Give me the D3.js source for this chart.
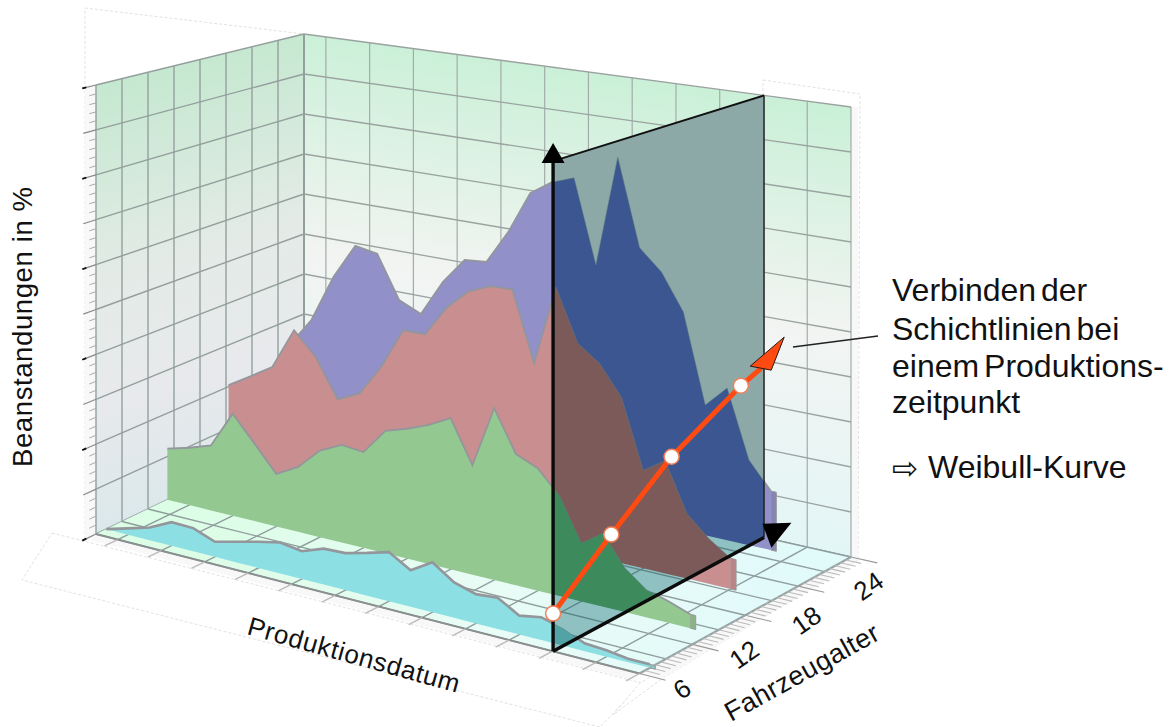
<!DOCTYPE html>
<html>
<head>
<meta charset="utf-8">
<script src="https://d3js.org/d3.v7.min.js"></script>
<style>
body { margin: 0; background: #fff; }
svg { display: block; }
text { font-family: "Liberation Sans", Arial, sans-serif; fill: #111; }
</style>
</head>
<body>
<svg id="chart" width="1176" height="727"></svg>
<script>
// values per half year of production (% scale has no labels, 0..10)
var age_24_values = [2.38,3.11,4.27,5.13,5.03,4.01,3.77,4.64,5.26,5.31,6.11,7.11,7.45,7.63,5.69,8.27,6.26,5.79,4.97,2.95,3.43,1.91,1.32]
var age_18_values = [2.04,2.36,2.69,3.67,3.14,2.26,2.51,3.24,4.18,4.19,4.90,5.36,5.57,5.59,4.02,5.82,4.66,4.31,3.66,2.15,2.47,1.42,0.98,0.66]
var age_12_values = [1.18,1.32,1.49,2.33,1.76,1.19,1.46,1.94,2.18,2.13,2.71,2.86,3.05,3.30,2.38,3.72,2.83,2.63,2.14,1.24,1.56,0.93,0.58,0.45,0.29]
var age_6_values = [0,0.14,0.28,0.52,0.51,0.33,0.45,0.57,0.67,0.60,0.77,0.79,0.91,1.04,0.77,1.05,0.74,0.61,0.65,0.39,0.47,0.35,0.16,0.13,0.07,0.07]

var age_labels = [6, 12, 18, 24]
var date_ticks = d3.range(1, 26, 2)
var value_ticks = d3.range(0, 11)
var age_grid = d3.range(0, 9).map(function (i) { return 5 + i * 2.55 })

// the cut through one production date, and the points it picks up
var slice_date = 21.025
var slice_ages = [5, 10.63, 16.46, 23.16]
var slice_values = [0.77, 1.79, 2.82, 3.67]

var note_lines = ["Verbinden der", "Schichtlinien bei", "einem Produktions-", "zeitpunkt"]

var date_scale = d3.scaleLinear().domain([0, 25]).range([0, 1])
var age_scale = d3.scaleLinear().domain([5, 25.4]).range([0, 1])
var value_scale = d3.scaleLinear().domain([0, 10]).range([0, 1])

// floor corners and box heights of the perspective box, u along date, v along age
var p00 = [96, 534], p10 = [639.5, 673.5], p01 = [304, 434], p11 = [851, 557]
var h00 = 449, h10 = 498, h01 = 400, h11 = 450

function bilinear(a, b, c, d, u, v) {
    return (1 - u) * (1 - v) * a + u * (1 - v) * b + (1 - u) * v * c + u * v * d
}

function project(date, age, value) {
    var u = date_scale(date), v = age_scale(age)
    var x = bilinear(p00[0], p10[0], p01[0], p11[0], u, v)
    var y = bilinear(p00[1], p10[1], p01[1], p11[1], u, v)
    var h = bilinear(h00, h10, h01, h11, u, v)
    return [x, y - value_scale(value) * h]
}

var date_min = 0, date_max = 25, age_min = 5, age_max = 25.4, value_max = 10

var svg = d3.select("#chart")
var defs = svg.append("defs")

function add_gradient(id, x1, y1, x2, y2, stops) {
    var g = defs.append("linearGradient").attr("id", id).attr("gradientUnits", "userSpaceOnUse")
        .attr("x1", x1).attr("y1", y1).attr("x2", x2).attr("y2", y2)
    stops.forEach(function (s) { g.append("stop").attr("offset", s[0]).attr("stop-color", s[1]) })
}
add_gradient("left_wall", 170, 60, 300, 500, [[0, "#c4e8cf"], [0.42, "#e4ebe7"], [0.68, "#e8e9ec"], [1, "#d8e8ea"]])
add_gradient("back_wall", 600, 60, 530, 520, [[0, "#c8f0d6"], [0.5, "#f2f4f2"], [1, "#e2f6f6"]])
add_gradient("floor_fill", 200, 500, 800, 560, [[0, "#dcfde6"], [0.5, "#e9fcf6"], [1, "#e1fafa"]])

function poly(sel, pts) {
    return sel.append("path").attr("d", d3.line()(pts) + "Z")
}
function seg(sel, a, b, color, width) {
    return sel.append("line").attr("x1", a[0]).attr("y1", a[1]).attr("x2", b[0]).attr("y2", b[1])
        .attr("stroke", color).attr("stroke-width", width)
}

// the faint label plates around the box
var plates = svg.append("g").attr("fill", "#fff").attr("stroke", "#e2e2e2").attr("stroke-width", 1).attr("stroke-dasharray", "3,2")
poly(plates, [[85, 8], [304, 34], [304, 434], [85, 540]])
poly(plates, [[763, 80], [860, 94], [858, 560], [763, 540]])
poly(plates, [[52, 533], [642, 683], [600, 727], [22, 580]])
poly(plates, [[858, 560], [660, 680], [613, 715], [640, 683]])
var bands = svg.append("g").attr("fill", "#f8f8f8")
poly(bands, [[85, 88], [96, 85], [96, 534], [85, 539]])
poly(bands, [[851, 107], [858, 107], [858, 560], [851, 557]])
poly(bands, [[96, 534], [639.5, 673.5], [633, 680], [90, 540]])
poly(bands, [[851, 557], [858, 560], [660, 680], [639.5, 673.5]])

// left and back wall
poly(svg, [project(date_min, age_min, value_max), project(date_min, age_max, value_max), project(date_min, age_max, 0), project(date_min, age_min, 0)]).attr("fill", "url(#left_wall)")
poly(svg, [project(date_min, age_max, value_max), project(date_max, age_max, value_max), project(date_max, age_max, 0), project(date_min, age_max, 0)]).attr("fill", "url(#back_wall)")

var wall_grid = svg.append("g")
age_grid.forEach(function (a) {
    seg(wall_grid, project(date_min, a, 0), project(date_min, a, value_max), "#99a5a2", 1.5)
})
date_ticks.forEach(function (d) {
    seg(wall_grid, project(d, age_max, 0), project(d, age_max, value_max), "#a3aca9", 1.2)
})
seg(wall_grid, project(date_min, age_max, 0), project(date_min, age_max, value_max), "#939f9c", 2)
value_ticks.forEach(function (v) {
    seg(wall_grid, project(date_min, age_min, v), project(date_min, age_max, v), "#939f9c", 1.4)
    seg(wall_grid, project(date_min, age_max, v), project(date_max, age_max, v), "#9aa3a0", 1.3)
})

// value ticks on the left edge, 5 minor per cell, every second major ends black
d3.range(0, 51).forEach(function (i) {
    var v = i / 5
    var major = i % 5 == 0
    seg(svg, project(date_min, age_min, v), project(date_min, age_min - (major ? 1.25 : 0.65), v), major ? "#888" : "#aaa", major ? 1.2 : 1)
    if (i % 10 == 0) seg(svg, project(date_min, age_min - 0.95, v), project(date_min, age_min - 1.35, v), "#111", 1.8)
})

function draw_floor(sel, fill, line_color) {
    poly(sel, [project(date_min, age_min, 0), project(date_max, age_min, 0), project(date_max, age_max, 0), project(date_min, age_max, 0)]).attr("fill", fill)
    age_grid.forEach(function (a) { seg(sel, project(date_min, a, 0), project(date_max, a, 0), line_color, 1.4) })
    date_ticks.forEach(function (d) { seg(sel, project(d, age_min, 0), project(d, age_max, 0), line_color, 1.4) })
}
draw_floor(svg.append("g"), "url(#floor_fill)", "#8f9d9d")
seg(svg, project(date_min, age_min, 0), project(date_max, age_min, 0), "#8a8f8f", 2)
seg(svg, project(date_max, age_min, 0), project(date_max, age_max, 0), "#9aa5a5", 2)

// ticks along the date edge and the age edge
date_ticks.forEach(function (d) {
    seg(svg, project(d, age_min, 0), project(d, age_min - 1.3, 0), "#bbb", 1.4)
})
d3.range(0, 41).forEach(function (i) {
    var a = age_min + i * 2.55 / 5
    var major = i % 10 == 0
    seg(svg, project(date_max, a, 0), project(date_max + (major ? 1.2 : 0.7), a, 0), major ? "#999" : "#bbb", 1.1)
})

var series = [
    { age: 24, values: age_24_values, fill: "#9190c9", cap: "#8584b4", dark: "#3b5690" },
    { age: 18, values: age_18_values, fill: "#c98f90", cap: "#b98586", dark: "#7d5a5a" },
    { age: 12, values: age_12_values, fill: "#93c891", cap: "#8ab388", dark: "#3d8a5c" },
    { age: 6, values: age_6_values, fill: "#8cdfe3", cap: "#88c5c8", dark: "#52a3a6" }
]

function draw_series(sel, dark) {
    series.forEach(function (s) {
        var last = s.values.length - 1
        var area = d3.area()
            .x(function (d) { return project(d[0], s.age, d[1])[0] })
            .y0(function (d) { return project(d[0], s.age, 0)[1] })
            .y1(function (d) { return project(d[0], s.age, d[1])[1] })
        var top = d3.line()
            .x(function (d) { return project(d[0], s.age, d[1])[0] })
            .y(function (d) { return project(d[0], s.age, d[1])[1] })
        // side face at the youngest production date
        var cap_data = [[last, s.values[last]], [last + 0.25, s.values[last]]]
        if (!dark) sel.append("path").attr("d", area(cap_data)).attr("fill", s.cap).attr("stroke", "#999").attr("stroke-width", 1)
        var data = s.values.map(function (v, i) { return [i, v] })
        sel.append("path").attr("d", area(data)).attr("fill", dark ? s.dark : s.fill)
        sel.append("path").attr("d", top(data)).attr("fill", "none")
            .attr("stroke", dark ? "#5d7f80" : "#93969b").attr("stroke-width", dark ? 1 : (s.age == 6 ? 2.6 : 1.8))
            .attr("stroke-opacity", dark ? 0.5 : 1)
    })
}
draw_series(svg.append("g"), false)

// the cut plane, what lies behind it shows through darker
var plane_pts = [project(slice_date, age_min, value_max), project(slice_date, age_max, value_max), project(slice_date, age_max, 0), project(slice_date, age_min, 0)]
defs.append("clipPath").attr("id", "plane_clip").append("path").attr("d", d3.line()(plane_pts) + "Z")
var plane = svg.append("g").attr("clip-path", "url(#plane_clip)")
poly(plane, plane_pts).attr("fill", "#8ca9a8")
draw_floor(plane.append("g"), "#8fc1c3", "#5d8587")
draw_series(plane.append("g"), true)

seg(svg, plane_pts[0], plane_pts[1], "#111", 2)
seg(svg, plane_pts[1], plane_pts[2], "#222", 1.5)

// black arrows up the value axis and along the age axis
var up_tip = project(slice_date, age_min, 10.37)
var back_tip = project(slice_date, 28.05, 0)
seg(svg, plane_pts[3], [up_tip[0], up_tip[1] + 18], "#0b0b0b", 3.4)
seg(svg, plane_pts[3], plane_pts[2], "#0b0b0b", 3.4)
svg.append("path").attr("fill", "#000").attr("d", d3.line()([up_tip, [up_tip[0] - 11.5, up_tip[1] + 20], [up_tip[0] + 11.5, up_tip[1] + 20]]) + "Z")
svg.append("path").attr("fill", "#000").attr("d", d3.line()([back_tip, [back_tip[0] - 29, back_tip[1] + 1], [back_tip[0] - 20, back_tip[1] + 25]]) + "Z")

// orange line over the slice points
var slice_pts = slice_ages.map(function (a, i) { return project(slice_date, a, slice_values[i]) })
var head_tip = project(slice_date, 27.35, 4.33)
var head_base = [head_tip[0] - 23, head_tip[1] + 31]
svg.append("path").attr("d", d3.line()(slice_pts.concat([head_base]))).attr("fill", "none").attr("stroke", "#ff4a12").attr("stroke-width", 5)
svg.append("path").attr("d", d3.line()([head_tip, [head_tip[0] - 34, head_tip[1] + 29], [head_tip[0] - 13, head_tip[1] + 33]]) + "Z")
    .attr("fill", "#ff4a12").attr("stroke", "#2a1a10").attr("stroke-width", 1)
svg.append("g").selectAll("circle").data(slice_pts).join("circle")
    .attr("cx", function (d) { return d[0] }).attr("cy", function (d) { return d[1] }).attr("r", 7.5)
    .attr("fill", "#fff").attr("stroke", "#f0805a").attr("stroke-width", 1.5)

seg(svg, [793, 347], [878, 336], "#222", 1.5)

// labels
svg.append("text").attr("transform", "translate(32,467) rotate(-90)").attr("font-size", 27.5)
    .attr("textLength", 280).text("Beanstandungen in %")
svg.append("text").attr("transform", "translate(246,634) rotate(15.6)").attr("font-size", 26)
    .attr("textLength", 219).text("Produktionsdatum")
svg.append("text").attr("transform", "translate(731,722) rotate(-29)").attr("font-size", 27)
    .attr("textLength", 172).text("Fahrzeugalter")

svg.append("g").selectAll("text").data(age_labels).join("text")
    .attr("transform", function (d) {
        var p = project(date_max, d, 0)
        return "translate(" + (p[0] + 32) + "," + (p[1] + 21) + ") rotate(-35)"
    })
    .attr("font-size", 26).attr("text-anchor", "middle").attr("dy", "0.35em").text(function (d) { return d })

var note_y = [301, 340, 377, 413]
svg.append("g").selectAll("text").data(note_lines).join("text")
    .attr("x", 892).attr("y", function (d, i) { return note_y[i] })
    .attr("font-size", 32).attr("word-spacing", -4).text(function (d) { return d })

svg.append("text").attr("x", 892).attr("y", 479).attr("font-size", 31).style("font-family", "'DejaVu Sans'").text("\u21E8")
svg.append("text").attr("x", 928).attr("y", 478).attr("font-size", 32).text("Weibull-Kurve")
</script>
</body>
</html>
